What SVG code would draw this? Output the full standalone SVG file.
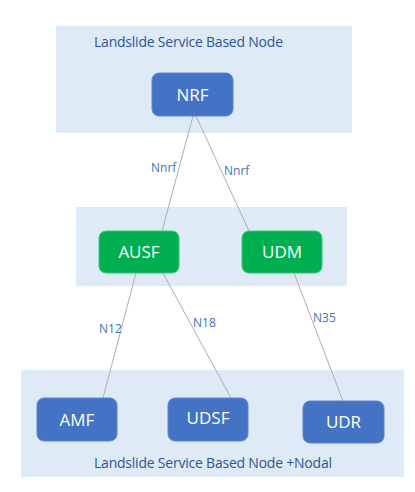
<svg xmlns="http://www.w3.org/2000/svg" width="415" height="492" viewBox="0 0 415 492">
<style>
.panel{fill:#deebf7;stroke:none}
.blue{fill:#4472c4;stroke:#5b86d0;stroke-width:1}
.green{fill:#00b050;stroke:#3fc27a;stroke-width:1}
.nt{font-family:"Open Sans","Liberation Sans",sans-serif;font-size:17px;fill:#fff;text-anchor:middle}
.pt{font-family:"Open Sans","Liberation Sans",sans-serif;font-size:14px;fill:#2f5597}
.lt{font-family:"Open Sans","Liberation Sans",sans-serif;font-size:12px;fill:#4472c4}
.conn line{stroke:#aeaeae;stroke-width:1}
</style>
<rect width="415" height="492" fill="#fff"/>
<g id="panel-top"><rect class="panel" x="56" y="26" width="296" height="107"/><text class="pt" x="94" y="47" textLength="189">Landslide Service Based Node</text></g>
<g id="panel-mid"><rect class="panel" x="76" y="207" width="271" height="79"/></g>
<g id="panel-bottom"><rect class="panel" x="21" y="370" width="383" height="107"/><text class="pt" x="94" y="468" textLength="238">Landslide Service Based Node +Nodal</text></g>
<g class="conn" id="connectors">
<line x1="193" y1="116" x2="162" y2="231"/>
<line x1="196" y1="116" x2="249" y2="231"/>
<line x1="136" y1="273" x2="103" y2="398"/>
<line x1="163" y1="273" x2="231" y2="398"/>
<line x1="294" y1="273" x2="343" y2="401"/>
<text class="lt" x="151" y="172">Nnrf</text>
<text class="lt" x="224" y="175">Nnrf</text>
<text class="lt" x="99" y="333">N12</text>
<text class="lt" x="193" y="327">N18</text>
<text class="lt" x="313" y="322">N35</text>
</g>
<g id="NRF"><rect class="blue" x="152" y="73" width="81" height="43" rx="7"/><text class="nt" x="192.5" y="101">NRF</text></g>
<g id="AUSF"><rect class="green" x="99" y="231" width="80" height="42" rx="7"/><text class="nt" x="139" y="258">AUSF</text></g>
<g id="UDM"><rect class="green" x="242" y="231" width="80" height="42" rx="7"/><text class="nt" x="282" y="258">UDM</text></g>
<g id="AMF"><rect class="blue" x="37" y="398" width="80" height="43" rx="7"/><text class="nt" x="77" y="426">AMF</text></g>
<g id="UDSF"><rect class="blue" x="168" y="398" width="80" height="43" rx="7"/><text class="nt" x="208" y="424">UDSF</text></g>
<g id="UDR"><rect class="blue" x="303" y="401" width="81" height="42" rx="7"/><text class="nt" x="343.5" y="428">UDR</text></g>
</svg>
